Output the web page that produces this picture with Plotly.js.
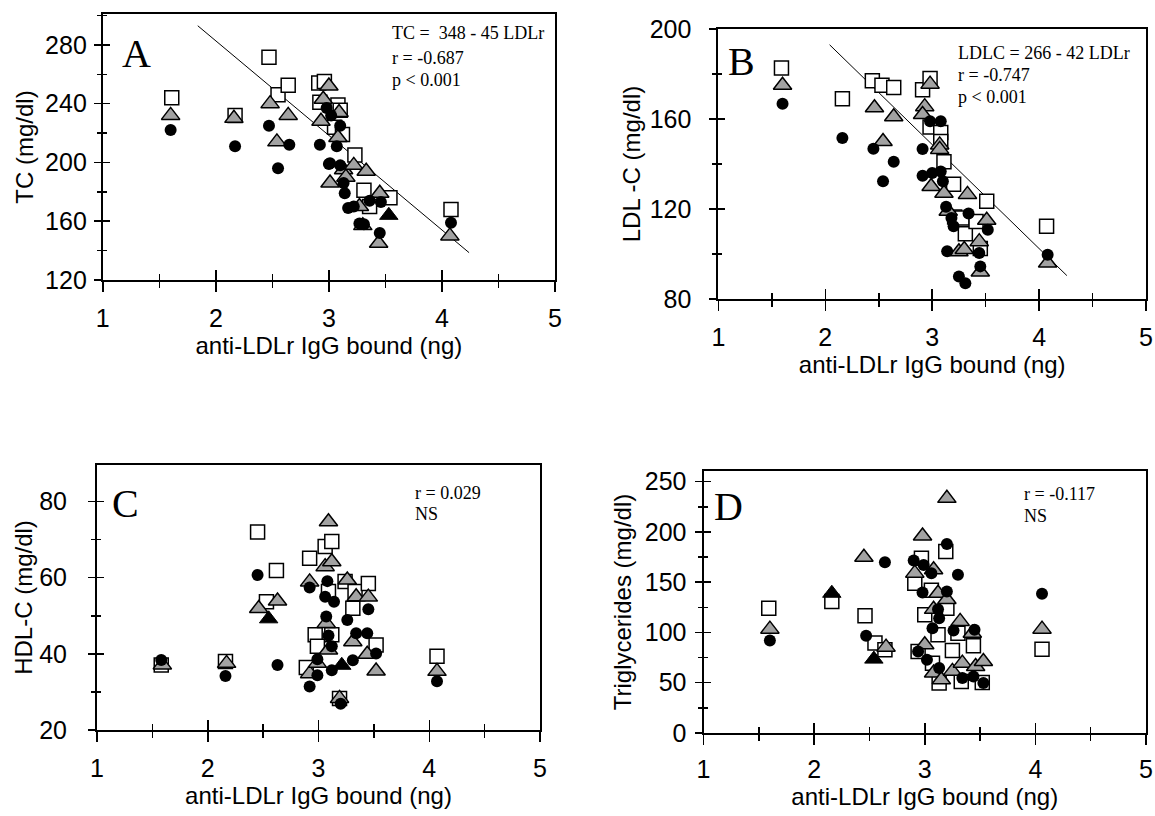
<!DOCTYPE html>
<html>
<head>
<meta charset="utf-8">
<script src="https://cdn.plot.ly/plotly-3.0.1.min.js"></script>
<style>html,body{margin:0;padding:0;background:#fff;}#chart{width:1155px;height:816px;}</style>
</head>
<body>
<div id="chart"></div>
<script>
// ---------- Panel A : TC ----------
const aSqX = [1.61, 2.17, 2.47, 2.55, 2.64, 2.91, 2.96, 2.92, 3.08, 3.10, 3.05, 3.12, 3.23, 3.31, 3.36, 3.54, 4.08];
const aSqY = [244, 232, 271.5, 246, 252.5, 254, 255, 241, 239, 235.5, 224, 219, 205, 181, 170, 176, 168];
const aTrX = [1.60, 2.16, 2.48, 2.54, 2.64, 2.93, 2.95, 3.00, 3.01, 3.09, 3.08, 3.13, 3.22, 3.33, 3.27, 3.45, 3.44, 3.30, 4.07, 3.15];
const aTrY = [232, 230, 240, 214, 232, 228, 243, 252, 186, 234, 217, 195, 198, 194, 170, 179, 145, 157, 150, 190];
const aBtX = [3.53];
const aBtY = [164];
const aCiX = [1.60, 2.17, 2.47, 2.55, 2.65, 2.92, 3.00, 2.98, 3.02, 3.10, 3.07, 3.01, 3.10, 3.13, 3.14, 3.17, 3.22, 3.27, 3.31, 3.36, 3.46, 3.45, 4.08];
const aCiY = [222, 211, 225, 196, 212, 212, 199, 237, 232, 225, 211, 199.5, 198, 186, 179, 169, 170, 158.5, 158, 174, 173, 152, 159];
const aFitX = [1.84, 4.24];
const aFitY = [293, 138.6];

// ---------- Panel B : LDL-C ----------
const bSqX = [1.59, 2.16, 2.44, 2.53, 2.64, 2.91, 2.98, 2.98, 3.08, 3.08, 3.11, 3.20, 3.21, 3.28, 3.31, 3.41, 3.51, 3.45, 4.07];
const bSqY = [182.7, 169, 177, 175, 174, 173, 178, 156.5, 154, 150, 141, 131, 116.5, 116, 109, 114.5, 123.5, 102.5, 112.3];
const bTrX = [1.60, 2.46, 2.64, 2.54, 2.93, 2.91, 2.98, 3.07, 3.07, 2.99, 3.11, 3.33, 3.51, 3.15, 3.25, 3.30, 3.44, 3.45, 4.08];
const bTrY = [175, 165, 161, 150, 165.5, 162, 175.5, 148.5, 146.5, 130, 127, 126.5, 115, 119, 101, 102, 105.5, 92, 96];
const bCiX = [1.60, 2.16, 2.45, 2.64, 2.54, 2.91, 2.98, 3.08, 2.91, 3.00, 3.08, 3.10, 3.13, 3.18, 3.20, 3.34, 3.14, 3.44, 3.45, 3.25, 3.31, 3.52, 4.08];
const bCiY = [166.8, 151.6, 146.8, 141, 132.3, 146.7, 159, 159, 134.8, 136, 136.7, 132.3, 121, 116, 112.3, 118, 101.2, 100.4, 94.5, 90, 87, 110.8, 99.7];
const bFitX = [2.04, 4.26];
const bFitY = [193, 90.4];

// ---------- Panel C : HDL-C ----------
const cSqX = [1.58, 2.16, 2.45, 2.62, 2.53, 2.92, 3.06, 3.12, 3.09, 3.24, 3.33, 3.31, 3.45, 3.52, 2.97, 2.99, 3.12, 2.89, 3.19, 4.07];
const cSqY = [37.1, 38, 72, 61.9, 53.7, 65.1, 68.2, 69.5, 56.4, 59, 56.4, 52, 58.5, 42.3, 45, 42, 45, 36.4, 28.3, 39.4];
const cTrX = [1.59, 2.17, 2.46, 2.63, 2.92, 3.09, 3.06, 3.12, 3.26, 3.34, 3.45, 3.07, 3.09, 3.31, 3.44, 3.52, 2.92, 2.99, 3.19, 4.07];
const cTrY = [37.1, 37.5, 51.9, 53.9, 58.9, 74.7, 62.9, 64.2, 59.4, 55, 54.9, 48, 41, 43.2, 39.9, 35.5, 34.8, 37.5, 28.3, 35.4];
const cBtX = [2.55, 3.21];
const cBtY = [49.2, 37];
const cCiX = [1.58, 2.16, 2.45, 2.63, 2.92, 3.08, 3.06, 3.14, 3.07, 3.26, 3.34, 3.44, 3.45, 3.09, 3.12, 3.31, 3.52, 2.99, 2.99, 3.12, 2.92, 3.20, 4.07];
const cCiY = [38.4, 34.2, 60.7, 37.1, 57.4, 59.1, 55, 53.7, 49.8, 48.9, 45.4, 45.4, 51.7, 44.8, 42, 38.3, 40.1, 38.6, 34.4, 35.7, 31.4, 26.9, 32.8];

// ---------- Panel D : Triglycerides ----------
const dSqX = [1.59, 2.16, 2.46, 2.55, 2.64, 2.97, 2.91, 3.19, 3.06, 3.00, 3.20, 3.12, 3.30, 3.25, 3.44, 3.07, 3.13, 3.33, 3.52, 4.06, 2.94];
const dSqY = [124, 130.8, 116.6, 89.4, 82.8, 173.8, 149, 180.5, 142, 117.5, 124, 97.7, 99.3, 82, 86.8, 69.5, 49.7, 51.3, 50.3, 83.4, 81];
const dTrX = [1.60, 2.45, 2.65, 2.98, 2.91, 3.20, 3.08, 3.12, 3.20, 3.32, 3.43, 3.00, 3.08, 3.15, 3.25, 3.34, 3.46, 3.53, 4.06, 3.08];
const dTrY = [103.3, 174.8, 85.4, 196, 159, 233.4, 162.3, 139, 132.8, 111, 99.3, 87.7, 59.6, 53, 61.3, 69.5, 66.2, 71.2, 103.3, 123];
const dBtX = [2.16, 2.54];
const dBtY = [139, 73.5];
const dCiX = [1.60, 2.47, 2.64, 2.90, 2.99, 3.06, 3.20, 3.30, 2.98, 3.20, 3.12, 3.13, 3.07, 3.26, 3.45, 2.94, 3.02, 3.13, 3.34, 3.44, 3.53, 4.06];
const dCiY = [92, 96.7, 169.9, 171.5, 167.2, 159, 188, 157.3, 139.7, 140.7, 123.2, 114.2, 104.3, 102, 102.6, 81, 72.8, 64.6, 54.6, 56.3, 49.7, 138.4];

// ---------- Text ----------
const xTitle = 'anti-LDLr IgG bound (ng)';
const yTitles = ['TC (mg/dl)', 'LDL -C (mg/dl)', 'HDL-C (mg/dl)', 'Triglycerides (mg/dl)'];
const panelLetters = ['A', 'B', 'C', 'D'];
const statTexts = [
  ['TC =  348 - 45 LDLr', 'r = -0.687', 'p < 0.001'],
  ['LDLC = 266 - 42 LDLr', 'r = -0.747', 'p < 0.001'],
  ['r = 0.029', 'NS'],
  ['r = -0.117', 'NS']
];

// ---------- Layout geometry (page pixels) ----------
const W = 1155, H = 816;
const panels = [
  {l: 102.8, r: 555, t: 14, b: 280, yr: [120, 301], ydt: 40, ymin: 20, xs: 5, ys: 2, xts: 3, yts: 5,
   letter: [136, 54], stat: [390, [33, 58, 80]]},
  {l: 718.4, r: 1146, t: 29, b: 299, yr: [80, 200], ydt: 40, ymin: 20, xs: 5, ys: 13, xts: 3, yts: 2,
   letter: [741, 62], stat: [956, [53, 75, 97]]},
  {l: 97, r: 540, t: 465, b: 730, yr: [20, 89.6], ydt: 20, ymin: 10, xs: 5, ys: 16, xts: 3, yts: 0,
   letter: [125.5, 503], stat: [412.5, [493, 514]]},
  {l: 703.5, r: 1146, t: 471, b: 733, yr: [0, 260.6], ydt: 50, ymin: 25, xs: 3, ys: 3, xts: 2, yts: 6,
   letter: [728.5, 506], stat: [1022, [494, 516]]}
];

const sans = 'Liberation Sans, Arial, sans-serif';
const serif = 'Liberation Serif, Times New Roman, serif';

const data = [];
const layout = {
  width: W, height: H,
  margin: {l: 0, r: 0, t: 0, b: 0},
  paper_bgcolor: '#fff', plot_bgcolor: 'rgba(0,0,0,0)',
  showlegend: false,
  annotations: [],
  font: {family: sans, color: '#000'}
};

const series = [
  [[aSqX, aSqY], [aTrX, aTrY], [aBtX, aBtY], [aCiX, aCiY], [aFitX, aFitY]],
  [[bSqX, bSqY], [bTrX, bTrY], [[], []], [bCiX, bCiY], [bFitX, bFitY]],
  [[cSqX, cSqY], [cTrX, cTrY], [cBtX, cBtY], [cCiX, cCiY], null],
  [[dSqX, dSqY], [dTrX, dTrY], [dBtX, dBtY], [dCiX, dCiY], null]
];

panels.forEach((p, i) => {
  const n = i + 1, o = i + 5;
  const xa = 'x' + n, ya = 'y' + n;
  const dx = [p.l / W, p.r / W], dy = [1 - p.b / H, 1 - p.t / H];
  const s = series[i];
  if (s[4]) data.push({x: s[4][0], y: s[4][1], xaxis: xa, yaxis: ya, mode: 'lines', type: 'scatter',
    line: {color: '#000', width: 1}, hoverinfo: 'skip'});
  data.push({x: s[0][0], y: s[0][1], xaxis: xa, yaxis: ya, mode: 'markers', type: 'scatter',
    marker: {symbol: 'square', size: 14, color: '#fff', line: {color: '#000', width: 1.5}}});
  data.push({x: s[1][0], y: s[1][1], xaxis: xa, yaxis: ya, mode: 'markers', type: 'scatter',
    marker: {symbol: 'triangle-up', size: 16, color: '#a2a2a2', line: {color: '#000', width: 1.5}}});
  data.push({x: s[2][0], y: s[2][1], xaxis: xa, yaxis: ya, mode: 'markers', type: 'scatter',
    marker: {symbol: 'triangle-up', size: 16, color: '#000', line: {color: '#000', width: 1}}});
  data.push({x: s[3][0], y: s[3][1], xaxis: xa, yaxis: ya, mode: 'markers', type: 'scatter',
    marker: {symbol: 'circle', size: 12, color: '#000', line: {width: 0}}});
  // empty traces that carry the overlay axes (ticks crossing the frame)
  data.push({x: [], y: [], xaxis: 'x' + o, yaxis: ya, type: 'scatter', mode: 'markers', hoverinfo: 'skip'});
  data.push({x: [], y: [], xaxis: xa, yaxis: 'y' + o, type: 'scatter', mode: 'markers', hoverinfo: 'skip'});

  layout['xaxis' + n] = {
    domain: dx, anchor: ya, range: [1, 5], dtick: 1, tick0: 1,
    ticks: 'outside', ticklen: 10, tickwidth: 1.5, tickcolor: '#000',
    minor: {dtick: 0.5, ticks: 'outside', ticklen: 6, tickwidth: 1.5, tickcolor: '#000', showgrid: false},
    showline: true, linewidth: 2, linecolor: '#000', mirror: true,
    showgrid: false, zeroline: false,
    tickfont: {family: sans, size: 25, color: '#000'},
    ticklabelstandoff: p.xs, ticklabeloverflow: 'allow',
    title: {text: xTitle, font: {family: sans, size: 24, color: '#000'}, standoff: p.xts}
  };
  layout['yaxis' + n] = {
    domain: dy, anchor: xa, range: p.yr, dtick: p.ydt, tick0: 0,
    ticks: 'outside', ticklen: 7, tickwidth: 1.5, tickcolor: '#000',
    minor: {dtick: p.ymin, ticks: 'outside', ticklen: 4, tickwidth: 1.5, tickcolor: '#000', showgrid: false},
    showline: true, linewidth: 2, linecolor: '#000', mirror: true,
    showgrid: false, zeroline: false,
    tickfont: {family: sans, size: 25, color: '#000'},
    ticklabelstandoff: p.ys, ticklabeloverflow: 'allow',
    title: {text: yTitles[i], font: {family: sans, size: 24, color: '#000'}, standoff: p.yts}
  };
  layout['xaxis' + o] = {
    overlaying: xa, anchor: ya, side: 'bottom', range: [1, 5], dtick: 1, tick0: 1,
    ticks: 'inside', ticklen: 10, tickwidth: 1.5, tickcolor: '#000',
    minor: {dtick: 0.5, ticks: 'inside', ticklen: 6, tickwidth: 1.5, tickcolor: '#000', showgrid: false},
    showticklabels: false, showline: false, showgrid: false, zeroline: false
  };
  layout['yaxis' + o] = {
    overlaying: ya, anchor: xa, side: 'left', range: p.yr, dtick: p.ydt, tick0: 0,
    ticks: 'inside', ticklen: 7, tickwidth: 1.5, tickcolor: '#000',
    minor: {dtick: p.ymin, ticks: 'inside', ticklen: 4, tickwidth: 1.5, tickcolor: '#000', showgrid: false},
    showticklabels: false, showline: false, showgrid: false, zeroline: false
  };

  layout.annotations.push({
    text: panelLetters[i], xref: 'paper', yref: 'paper',
    x: p.letter[0] / W, y: 1 - p.letter[1] / H, xanchor: 'center', yanchor: 'middle',
    showarrow: false, font: {family: serif, size: 40, color: '#000'}
  });
  statTexts[i].forEach((t, k) => {
    layout.annotations.push({
      text: t, xref: 'paper', yref: 'paper',
      x: p.stat[0] / W, y: 1 - p.stat[1][k] / H, xanchor: 'left', yanchor: 'middle',
      showarrow: false, font: {family: serif, size: 18, color: '#000'}
    });
  });
});

Plotly.newPlot('chart', data, layout, {staticPlot: true, displayModeBar: false});
</script>
</body>
</html>
